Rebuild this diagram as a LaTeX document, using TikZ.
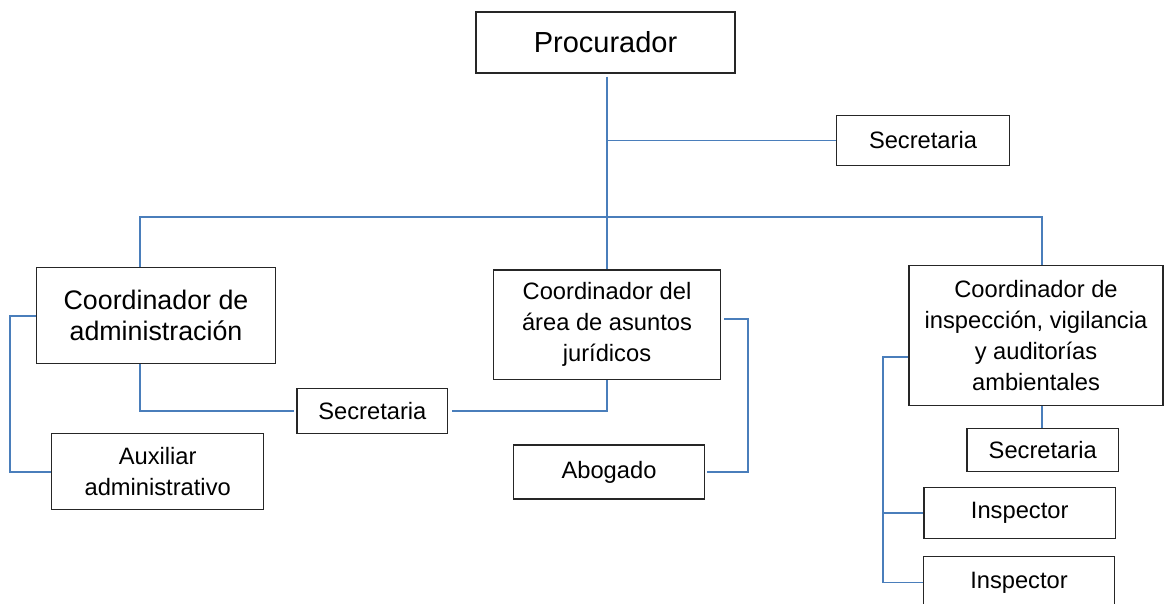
\documentclass[tikz,border=0pt]{standalone}
\usepackage{fontspec}
\setmainfont{Liberation Sans}
\usepackage{xcolor}
\usepackage{tikz}
\usetikzlibrary{positioning}
\definecolor{linkblue}{HTML}{4A7EBB}

\begin{document}
\begin{tikzpicture}[x=1pt, y=-1pt,
            box/.style = {draw=black!85, line width=1.2pt, rectangle, align=center, inner sep=0pt,
                          font=\fontsize{23.7}{31}\selectfont},
            link/.style = {draw=linkblue, line width=1.9pt}]
            \useasboundingbox (0,0) rectangle (1165,604);
            % nodes
            \node[box, minimum width=259, minimum height=61, font=\fontsize{29}{34}\selectfont] (proc) at (605.5,42.5) {Procurador};
            \node[box, minimum width=172.5, minimum height=50.7] (sec1) at (923,140.5) {Secretaria};
            \node[box, minimum width=238.6, minimum height=96, font=\fontsize{26.8}{31.7}\selectfont] (admin) at (156,315.3) {Coordinador de\\administración};
            \node[box, minimum width=227.4, minimum height=109.5] (jur) at (607,324.7) {Coordinador del\\área de asuntos\\jurídicos};
            \node[box, minimum width=254, minimum height=139.8] (insp) at (1036,335.6) {Coordinador de\\inspección, vigilancia\\y auditorías\\ambientales};
            \node[box, minimum width=212, minimum height=76] (aux) at (157.7,471.7) {Auxiliar\\administrativo};
            \node[box, minimum width=150.8, minimum height=45.4] (sec2) at (372.4,411) {Secretaria};
            \node[box, minimum width=191, minimum height=54] (abog) at (609,472) {Abogado};
            \node[box, minimum width=151.4, minimum height=43] (sec3) at (1042.7,449.8) {Secretaria};
            \node[box, minimum width=191.4, minimum height=51.4] (insp1) at (1019.7,513) {Inspector};
            \node[box, minimum width=190.3, minimum height=51.5] (insp2) at (1019,582.5) {Inspector};
            % connectors
            \coordinate (busL) at (139.7,217);
            \coordinate (busR) at (1042,217);
            \coordinate (adminL) at (9.6,315.7);
            \coordinate (jurR) at (748,318.7);
            \coordinate (inspL) at (883,357);
            \draw[link] ([yshift=-3pt]jur.north |- proc.south) -- (jur.north);
            \draw[link] (jur.north |- sec1.west) -- (sec1.west);
            \draw[link] (busL |- admin.north) -- (busL) -- (busR) -- (busR |- insp.north);
            \draw[link, shorten >=2pt] (busL |- admin.south) |- (sec2.west);
            \draw[link, shorten >=4pt] (jur.south) |- (sec2.east);
            \draw[link] (admin.west |- adminL) -- (adminL) |- (aux.west);
            \draw[link, shorten <=3pt, shorten >=2pt] (jur.east |- jurR) -- (jurR) |- (abog.east);
            \draw[link] (insp.west |- inspL) -- (inspL) |- (insp2.west);
            \draw[link] (inspL |- insp1.west) -- (insp1.west);
            \draw[link] (busR |- insp.south) -- (busR |- sec3.north);
        \end{tikzpicture}
\end{document}
